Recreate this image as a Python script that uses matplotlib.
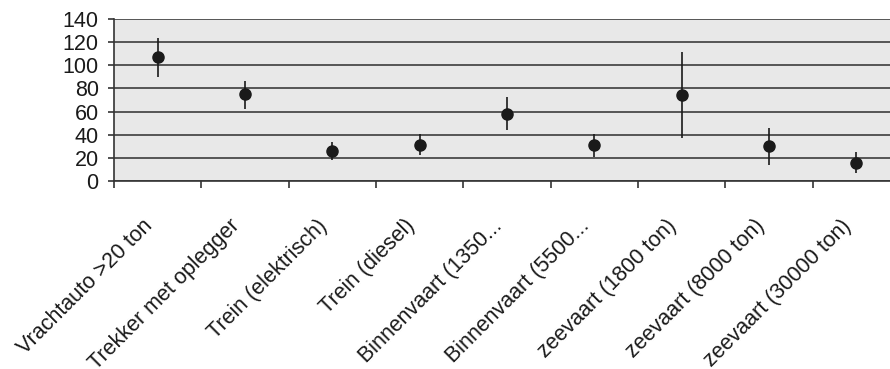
import matplotlib
matplotlib.use('Agg')
from matplotlib import pyplot as plt
from matplotlib import transforms

# transportmiddelen en hun uitstoot (gemiddelde met min/max)
categories = ['Vrachtauto >20 ton', 'Trekker met oplegger', 'Trein (elektrisch)',
              'Trein (diesel)', 'Binnenvaart (1350...', 'Binnenvaart (5500...',
              'zeevaart (1800 ton)', 'zeevaart (8000 ton)', 'zeevaart (30000 ton)']
means = [107.5, 75.5, 26, 31.5, 58, 31.5, 74, 30, 15.5]
lows = [90, 62.5, 18, 22.5, 44, 21, 37.5, 13.5, 6.5]
highs = [124, 86, 34, 40.5, 72.5, 40.5, 111.5, 46, 25]

plt.rcParams['font.family'] = ['Liberation Sans', 'DejaVu Sans']

fig = plt.figure(figsize=(8.9, 3.69), dpi=100)
ax = fig.add_axes([114 / 890, 188 / 369, 786 / 890, 162 / 369])
ax.set_facecolor('#e8e8e8')

x = list(range(len(categories)))
err_lo = [m - l for m, l in zip(means, lows)]
err_hi = [h - m for m, h in zip(means, highs)]
ax.errorbar(x, means, yerr=[err_lo, err_hi], fmt='o', color='#1a1a1a',
            markersize=8, elinewidth=1.2, capsize=0, zorder=3)

ax.set_xlim(-0.5, len(categories) - 0.5)
ax.set_ylim(0, 140)
ax.set_yticks(range(0, 141, 20))
ax.yaxis.grid(True, color='#555555', linewidth=1.4)
ax.set_axisbelow(True)

for side in ['top', 'right']:
    ax.spines[side].set_visible(False)
ax.spines['left'].set_color('#333333')
ax.spines['bottom'].set_color('#333333')
ax.spines['left'].set_linewidth(1.2)
ax.spines['bottom'].set_linewidth(1.2)

# scheidingsstreepjes tussen categorieen
ax.set_xticks([i - 0.5 for i in range(len(categories) + 1)], minor=True)
ax.tick_params(axis='x', which='minor', length=5, width=1.2, color='#333333')
ax.set_xticks(x)
ax.set_xticklabels(categories, rotation=45, ha='right', va='center',
                   rotation_mode='anchor', fontsize=15.5, color='#1a1a1a')
ax.tick_params(axis='x', which='major', length=0, pad=30)
ax.tick_params(axis='y', length=4.5, width=1.2, color='#333333', pad=6.5,
               labelsize=15.5, labelcolor='#1a1a1a')

offset = transforms.ScaledTranslation(-0.08, 0, fig.dpi_scale_trans)
for label in ax.get_xticklabels():
    label.set_transform(label.get_transform() + offset)

plt.savefig('out.png', dpi=100)
